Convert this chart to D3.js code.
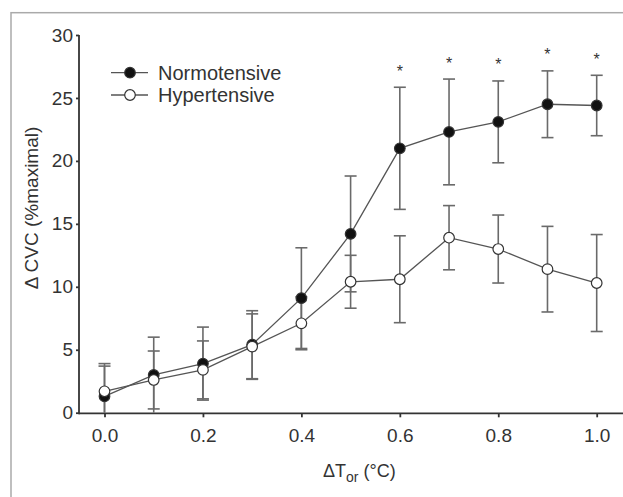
<!DOCTYPE html>
<meta charset="utf-8">
<script src="https://cdn.jsdelivr.net/npm/d3@7"></script>
<style>
body { margin: 0; background: #fff; }
text { font-family: "Liberation Sans", Arial, sans-serif; fill: #333; }
.axis path, .axis line { stroke: #333; stroke-width: 1.8px; }
.err { stroke: #6a6a6a; stroke-width: 1.6px; }
</style>
<body>
<script>

// delta core temperature (°C)
var dTor = [0.0, 0.1, 0.2, 0.3, 0.4, 0.5, 0.6, 0.7, 0.8, 0.9, 1.0];

// delta CVC (%maximal), mean and error
var normoMean = [1.3, 3.0, 3.9, 5.4, 9.1, 14.2, 21.0, 22.3, 23.1, 24.5, 24.4];
var normoErr  = [2.6, 3.0, 2.9, 2.7, 4.0, 4.6, 4.85, 4.2, 3.25, 2.65, 2.4];
var hyperMean = [1.7, 2.6, 3.4, 5.25, 7.1, 10.4, 10.6, 13.9, 13.0, 11.4, 10.3];
var hyperErr  = [2.0, 2.3, 2.3, 2.6, 2.1, 2.1, 3.45, 2.55, 2.7, 3.4, 3.85];

// points marked significant
var starAt = [0.6, 0.7, 0.8, 0.9, 1.0];

var xTicks = [0.0, 0.2, 0.4, 0.6, 0.8, 1.0];
var yTicks = [0, 5, 10, 15, 20, 25, 30];

var width = 623, height = 497;

var svg = d3.select("body").append("svg")
    .attr("width", width)
    .attr("height", height);

// outer frame of the figure
svg.append("rect")
    .attr("x", 11).attr("y", 12.7)
    .attr("width", 700).attr("height", 600)
    .attr("fill", "none")
    .attr("stroke", "#aaa")
    .attr("stroke-width", 1.5);

var x = d3.scaleLinear().domain([0, 1]).range([104.5, 596.7]);
var y = d3.scaleLinear().domain([0, 30]).range([412.7, 35]);

var axisX = 79, axisY = 413.3;

// axes
var gy = svg.append("g")
    .attr("class", "axis")
    .attr("transform", "translate(" + axisX + ",0)")
    .call(d3.axisLeft(y).tickValues(yTicks).tickSize(3).tickSizeOuter(0).tickPadding(3)
        .tickFormat(d3.format("d")));
gy.select(".domain").remove();
gy.selectAll("text").style("font-size", "19px").attr("fill", "#333");

var gx = svg.append("g")
    .attr("class", "axis")
    .attr("transform", "translate(0," + axisY + ")")
    .call(d3.axisBottom(x).tickValues(xTicks).tickSize(4).tickSizeOuter(0).tickPadding(11.5)
        .tickFormat(d3.format(".1f")));
gx.select(".domain").remove();
gx.selectAll("text").style("font-size", "19px").attr("fill", "#333");

svg.append("line")
    .attr("x1", axisX).attr("x2", axisX)
    .attr("y1", y(30)).attr("y2", axisY + 0.9)
    .attr("stroke", "#333").attr("stroke-width", 1.8);
svg.append("line")
    .attr("x1", axisX).attr("x2", width)
    .attr("y1", axisY).attr("y2", axisY)
    .attr("stroke", "#333").attr("stroke-width", 1.8);

// axis titles
svg.append("text")
    .attr("transform", "translate(38,208) rotate(-90)")
    .attr("text-anchor", "middle")
    .style("font-size", "19px")
    .text("\u0394 CVC (%maximal)");

var xt = svg.append("text")
    .attr("x", 323).attr("y", 477)
    .style("font-size", "18px");
xt.append("tspan").text("\u0394T");
xt.append("tspan").attr("dy", 5).style("font-size", "14px").text("or");
xt.append("tspan").attr("dy", -5).text(" (\u00b0C)");

var series = [
  {name: "Normotensive", mean: normoMean, err: normoErr, fill: "#111"},
  {name: "Hypertensive", mean: hyperMean, err: hyperErr, fill: "#fff"}
];

series.forEach(function(s) {
  s.points = dTor.map(function(t, i) {
    return {t: t, m: s.mean[i], e: s.err[i]};
  });
});

var line = d3.line()
    .x(function(d) { return x(d.t); })
    .y(function(d) { return y(d.m); });

// connecting lines
series.forEach(function(s) {
  svg.append("path")
      .datum(s.points)
      .attr("d", line)
      .attr("fill", "none")
      .attr("stroke", "#555")
      .attr("stroke-width", 1.3);
});

// error bars (clipped at zero)
var capW = 6;
series.forEach(function(s) {
  var g = svg.append("g").attr("class", "err");
  s.points.forEach(function(d) {
    var top = d.m + d.e, bot = Math.max(0, d.m - d.e);
    g.append("line")
        .attr("x1", x(d.t)).attr("x2", x(d.t))
        .attr("y1", y(top)).attr("y2", y(bot));
    g.append("line")
        .attr("x1", x(d.t) - capW).attr("x2", x(d.t) + capW)
        .attr("y1", y(top)).attr("y2", y(top));
    if (d.m - d.e > 0) {
      g.append("line")
          .attr("x1", x(d.t) - capW).attr("x2", x(d.t) + capW)
          .attr("y1", y(bot)).attr("y2", y(bot));
    }
  });
});

// markers
series.forEach(function(s) {
  svg.append("g").selectAll("circle")
      .data(s.points)
      .enter().append("circle")
      .attr("cx", function(d) { return x(d.t); })
      .attr("cy", function(d) { return y(d.m); })
      .attr("r", 5.3)
      .attr("fill", s.fill)
      .attr("stroke", "#333")
      .attr("stroke-width", 1.2);
});

// significance stars above the normotensive error bars
svg.append("g").selectAll("text")
    .data(series[0].points.filter(function(d) { return starAt.indexOf(d.t) >= 0; }))
    .enter().append("text")
    .attr("x", function(d) { return x(d.t); })
    .attr("y", function(d) { return y(d.m + d.e) - 19.5 + 9; })
    .attr("text-anchor", "middle")
    .style("font-size", "16px")
    .text("*");

// legend
var legend = svg.append("g");
series.forEach(function(s, i) {
  var ly = 72.7 + i * 22.3;
  legend.append("line")
      .attr("x1", 111).attr("x2", 148)
      .attr("y1", ly).attr("y2", ly)
      .attr("stroke", "#555").attr("stroke-width", 1.3);
  legend.append("circle")
      .attr("cx", 130).attr("cy", ly).attr("r", 5.3)
      .attr("fill", s.fill).attr("stroke", "#333").attr("stroke-width", 1.2);
  legend.append("text")
      .attr("x", 158).attr("y", ly + 7)
      .style("font-size", "20px")
      .text(s.name);
});

</script>
</body>
